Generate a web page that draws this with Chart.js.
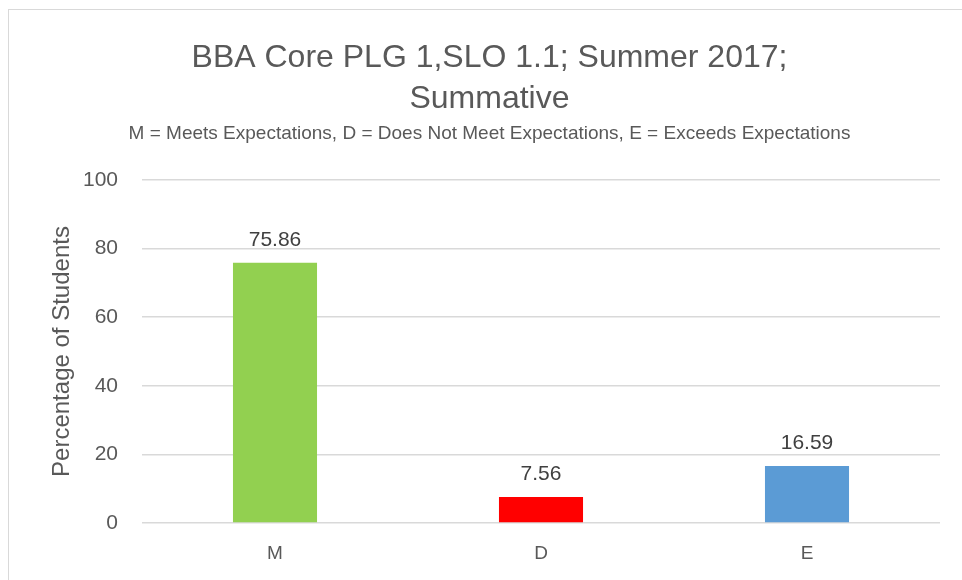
<!DOCTYPE html>
<html>
<head>
<meta charset="utf-8">
<script src="https://cdn.jsdelivr.net/npm/chart.js@4"></script>
<style>
  html, body { margin: 0; padding: 0; background: #fff; }
  #wrap { width: 962px; height: 580px; position: relative; }
</style>
</head>
<body>
<div id="wrap"><canvas id="chart" width="962" height="580"></canvas></div>
<script>
// chart data
const categories = ["M", "D", "E"];
const percentages = [75.86, 7.56, 16.59];
const barColors = ["#92d050", "#ff0000", "#5b9bd5"];
const yTicks = [0, 20, 40, 60, 80, 100];

const titleLines = ["BBA Core PLG 1,SLO 1.1; Summer 2017;", "Summative"];
const subtitleText = "M = Meets Expectations, D = Does Not Meet Expectations, E = Exceeds Expectations";

const fontFamily = "'Liberation Sans', 'Open Sans', sans-serif";
const textColor = "#595959";

// draws the outer border like the Excel chart frame
const frame = {
  id: "frame",
  beforeDraw(chart) {
    const ctx = chart.ctx;
    ctx.save();
    ctx.fillStyle = "#fff";
    ctx.fillRect(0, 0, chart.width, chart.height);
    ctx.strokeStyle = "#d9d9d9";
    ctx.lineWidth = 1;
    ctx.strokeRect(8.5, 9.5, chart.width + 20, chart.height + 20);
    ctx.restore();
  }
};

// value labels above each bar
const valueLabels = {
  id: "valueLabels",
  afterDatasetsDraw(chart) {
    const ctx = chart.ctx;
    const meta = chart.getDatasetMeta(0);
    ctx.save();
    ctx.font = "21px " + fontFamily;
    ctx.fillStyle = "#404040";
    ctx.textAlign = "center";
    ctx.textBaseline = "bottom";
    meta.data.forEach((bar, i) => {
      ctx.fillText(percentages[i].toFixed(2), bar.x, bar.y - 12);
    });
    ctx.restore();
  }
};

new Chart(document.getElementById("chart"), {
  type: "bar",
  data: {
    labels: categories,
    datasets: [{
      data: percentages,
      backgroundColor: barColors,
      barPercentage: 0.316,
      categoryPercentage: 1.0
    }]
  },
  plugins: [frame, valueLabels],
  options: {
    responsive: false,
    animation: false,
    layout: { padding: { left: 39, right: 22, top: 0, bottom: 0 } },
    plugins: {
      legend: { display: false },
      tooltip: { enabled: false },
      title: {
        display: true,
        text: titleLines,
        color: textColor,
        font: { family: fontFamily, size: 32, weight: "normal", lineHeight: 1.3 },
        padding: { top: 37, bottom: 2.4 }
      },
      subtitle: {
        display: true,
        text: subtitleText,
        color: textColor,
        font: { family: fontFamily, size: 19, weight: "normal", lineHeight: 1.2 },
        padding: { top: 0, bottom: 34.6 }
      }
    },
    scales: {
      x: {
        afterFit(scale) { scale.height = 57; },
        grid: { display: false, drawTicks: false },
        border: { display: false },
        ticks: { color: textColor, font: { family: fontFamily, size: 19 }, padding: 19 }
      },
      y: {
        min: 0,
        max: 100,
        afterBuildTicks(scale) {
          scale.ticks = yTicks.map(v => ({ value: v }));
        },
        afterFit(scale) { scale.width = 103; },
        grid: { color: "#d9d9d9", lineWidth: 1.5, drawTicks: false },
        border: { display: false },
        ticks: { color: textColor, font: { family: fontFamily, size: 21 }, padding: 24 },
        title: {
          display: true,
          text: "Percentage of Students",
          color: textColor,
          font: { family: fontFamily, size: 24, weight: "normal" },
          padding: { top: 9, bottom: 0 }
        }
      }
    }
  }
});
</script>
</body>
</html>
